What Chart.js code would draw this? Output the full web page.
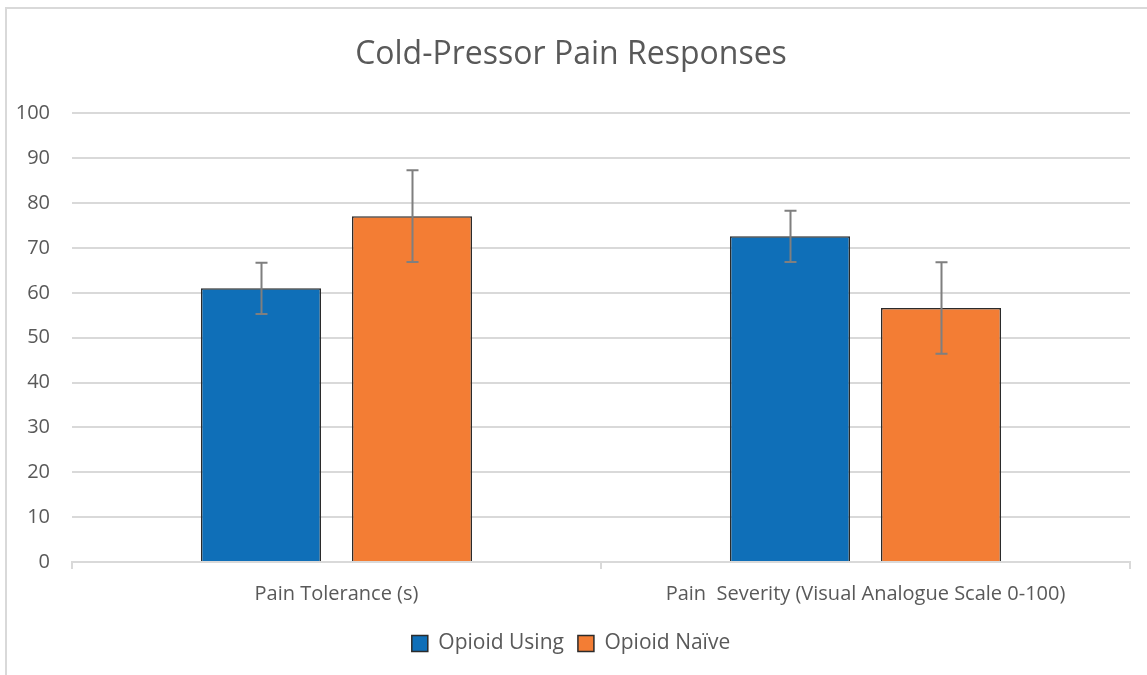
<!DOCTYPE html>
<html>
<head>
<meta charset="utf-8">
<script src="https://cdn.jsdelivr.net/npm/chart.js@4"></script>
<style>
  html, body { margin: 0; padding: 0; background: #fff; overflow: hidden; }
  #frame { position: absolute; left: 5px; top: 7px; width: 1200px; height: 720px; border: 2px solid #d9d9d9; box-sizing: border-box; }
  #wrap { position: absolute; left: 0; top: 0; width: 1147px; height: 675px; }
</style>
</head>
<body>
<div id="frame"></div>
<div id="wrap"><canvas id="chart" width="1147" height="675"></canvas></div>
<script>
// Cold-pressor pain responses, grouped bars with error bars
const categories = ['Pain Tolerance (s)', 'Pain  Severity (Visual Analogue Scale 0-100)'];
const seriesNames = ['Opioid Using', 'Opioid Naïve'];
const opioidUsing = [61, 72.6];
const opioidNaive = [77.1, 56.6];
const opioidUsingErr = [5.7, 5.7];
const opioidNaiveErr = [10.2, 10.2];
const yTicks = [0, 10, 20, 30, 40, 50, 60, 70, 80, 90, 100];

const BLUE = '#0f6fb8';
const ORANGE = '#f37d34';
const TEXT = '#595959';
const GRID = '#d9d9d9';
const FONT = "'Open Sans', 'DejaVu Sans', sans-serif";

// draws the error whiskers from each dataset's errors array
const errorBars = {
  id: 'errorBars',
  afterDatasetsDraw(chart) {
    const ctx = chart.ctx;
    const y = chart.scales.y;
    ctx.save();
    ctx.strokeStyle = '#7f7f7f';
    ctx.lineWidth = 2;
    chart.data.datasets.forEach((ds, i) => {
      chart.getDatasetMeta(i).data.forEach((bar, j) => {
        const v = ds.data[j], e = ds.errors[j];
        const top = y.getPixelForValue(v + e);
        const bot = y.getPixelForValue(v - e);
        const x = Math.round(bar.x) + 0.5;
        ctx.beginPath();
        ctx.moveTo(x, top); ctx.lineTo(x, bot);
        ctx.moveTo(x - 6, top); ctx.lineTo(x + 6, top);
        ctx.moveTo(x - 6, bot); ctx.lineTo(x + 6, bot);
        ctx.stroke();
      });
    });
    ctx.restore();
  }
};

new Chart(document.getElementById('chart'), {
  type: 'bar',
  data: {
    labels: categories,
    datasets: [
      { label: seriesNames[0], data: opioidUsing, errors: opioidUsingErr, backgroundColor: BLUE, borderColor: '#2b2b2b', borderWidth: 1.5, borderSkipped: 'bottom' },
      { label: seriesNames[1], data: opioidNaive, errors: opioidNaiveErr, backgroundColor: ORANGE, borderColor: '#2b2b2b', borderWidth: 1.5, borderSkipped: 'bottom' },
    ],
  },
  options: {
    responsive: false,
    animation: false,
    categoryPercentage: 0.571,
    barPercentage: 0.795,
    layout: { padding: { left: 12, right: 17, top: 26, bottom: 11 } },
    plugins: {
      title: {
        display: true,
        text: 'Cold-Pressor Pain Responses',
        color: TEXT,
        font: { family: FONT, size: 32, weight: 'normal' },
        padding: { top: 10, bottom: 39 },
      },
      legend: {
        position: 'bottom',
        labels: {
          color: TEXT,
          font: { family: FONT, size: 21 },
          boxWidth: 16, boxHeight: 16,
          padding: 14,
          generateLabels(chart) {
            return chart.data.datasets.map((ds, i) => ({
              text: ds.label, fillStyle: ds.backgroundColor, strokeStyle: '#2b2b2b',
              lineWidth: 1.5, fontColor: TEXT, datasetIndex: i, hidden: false,
            }));
          },
        },
      },
      tooltip: { enabled: false },
    },
    scales: {
      x: {
        grid: { display: true, drawOnChartArea: false, drawTicks: true, tickLength: 7, color: GRID, lineWidth: 2, offset: true },
        border: { display: true, color: GRID, width: 2 },
        ticks: { color: TEXT, font: { family: FONT, size: 20 }, padding: 13, maxRotation: 0 },
      },
      y: {
        min: 0, max: 100,
        afterBuildTicks(axis) { axis.ticks = yTicks.map(v => ({ value: v })); },
        afterFit(axis) { axis.width = 60; },
        grid: { color: GRID, lineWidth: 2, drawTicks: false },
        border: { display: false },
        ticks: { color: TEXT, font: { family: FONT, size: 20 }, padding: 22 },
      },
    },
  },
  plugins: [errorBars],
});
</script>
</body>
</html>
